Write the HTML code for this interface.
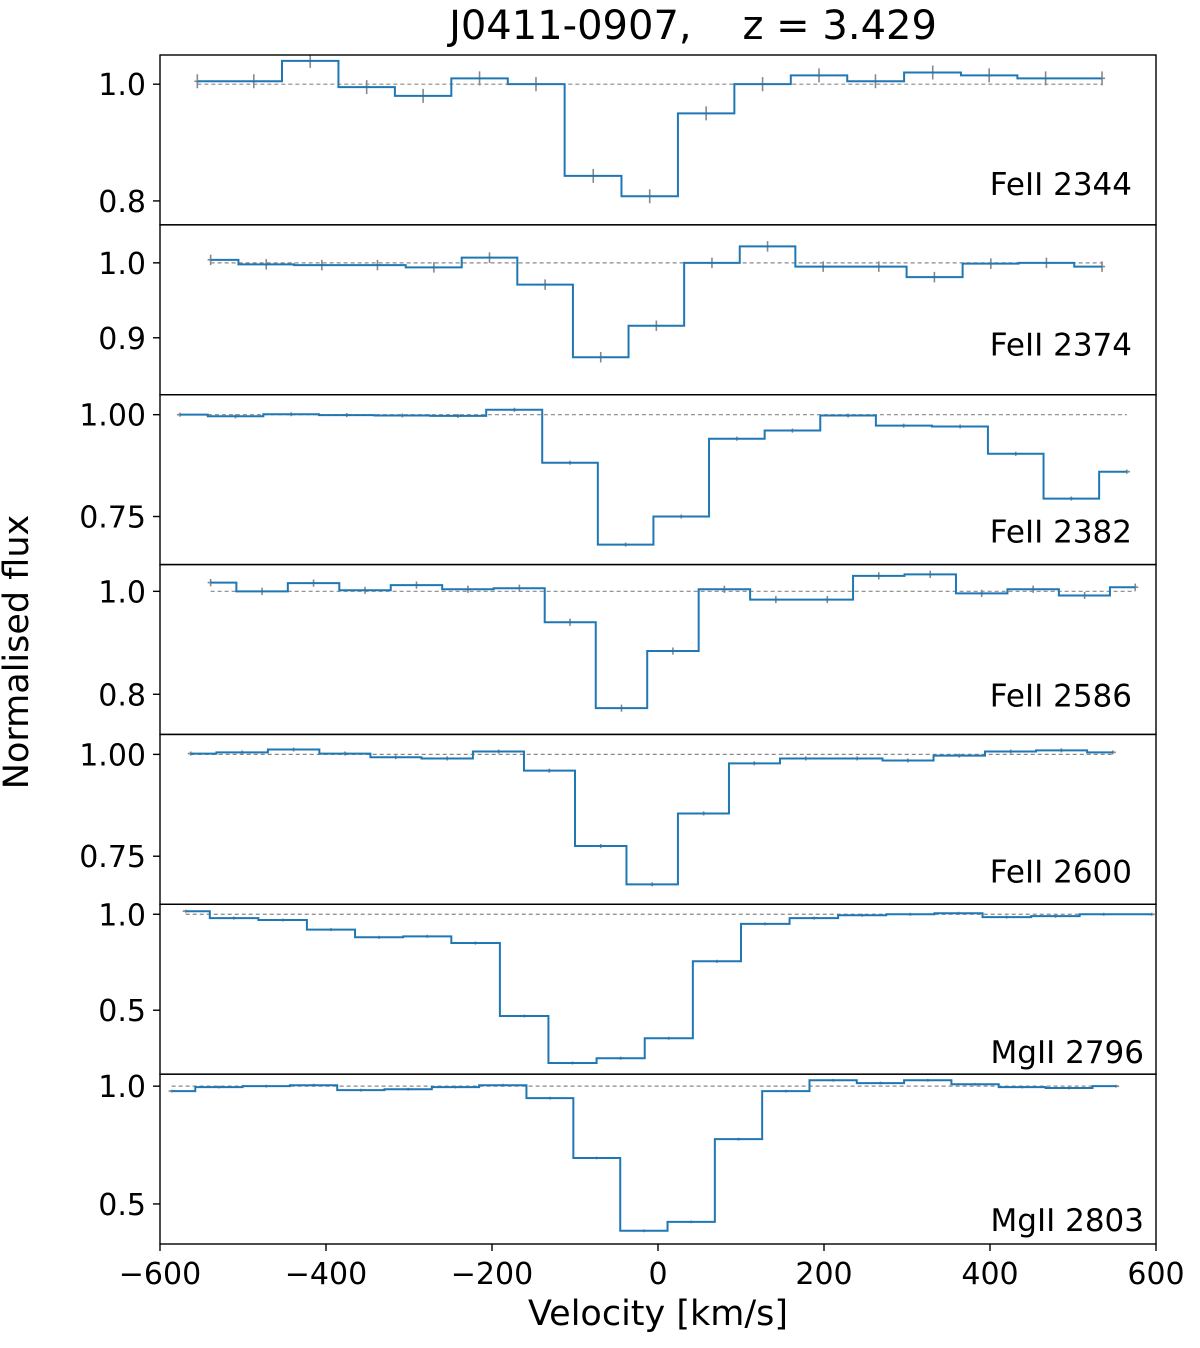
<!DOCTYPE html>
<html><head><meta charset="utf-8"><style>
body{margin:0;background:#fff;}
svg{display:block;font-family:"DejaVu Sans","Liberation Sans",sans-serif;}
</style></head><body>
<svg id="fig" width="1200" height="1348" viewBox="0 0 1200 1348" xmlns="http://www.w3.org/2000/svg">
<text x="693" y="39" font-size="40" text-anchor="middle" xml:space="preserve">J0411-0907,    z = 3.429</text>
<text transform="translate(28,652) rotate(-90)" font-size="35" text-anchor="middle">Normalised flux</text>
<text x="658" y="1325" font-size="35" text-anchor="middle">Velocity [km/s]</text>
<g id="panels"></g>
</svg>
<script>
const panelNames = ["FeII 2344","FeII 2374","FeII 2382","FeII 2586","FeII 2600","MgII 2796","MgII 2803"];
const vel1 = [-555,-487,-419,-351,-283,-215,-147,-78,-10,58,126,194,262,331,399,467,535];
const flux1 = [1.005,1.005,1.04,0.995,0.98,1.01,1.0,0.843,0.808,0.95,1.0,1.015,1.005,1.02,1.015,1.01,1.01];
const vel2 = [-539,-472,-405,-338,-270,-203,-136,-69,-2,65,132,199,266,333,401,468,535];
const flux2 = [1.004,0.998,0.997,0.997,0.994,1.007,0.971,0.874,0.916,1.0,1.022,0.995,0.995,0.981,0.999,1.0,0.995];
const vel3 = [-576,-509,-442,-375,-308,-241,-173,-106,-39,28,95,162,229,296,364,431,498,565];
const flux3 = [1.0,0.996,1.001,0.999,0.998,0.997,1.012,0.882,0.681,0.75,0.941,0.961,0.998,0.973,0.971,0.904,0.794,0.86];
const vel4 = [-539,-477,-415,-353,-291,-229,-167,-106,-44,18,80,142,204,266,328,390,452,514,575];
const flux4 = [1.017,1.0,1.016,1.002,1.012,1.004,1.006,0.94,0.773,0.884,1.004,0.984,0.984,1.03,1.033,0.996,1.004,0.992,1.008];
const vel5 = [-563,-501,-439,-377,-316,-254,-192,-131,-69,-7,55,116,178,240,301,363,425,486,548];
const flux5 = [1.002,1.005,1.012,1.002,0.993,0.99,1.007,0.96,0.775,0.681,0.855,0.978,0.99,0.99,0.985,0.997,1.007,1.01,1.005];
const vel6 = [-569,-511,-452,-394,-336,-278,-220,-161,-103,-45,13,71,129,188,246,304,362,420,479,537,595];
const flux6 = [1.016,0.98,0.97,0.92,0.88,0.885,0.85,0.47,0.225,0.25,0.354,0.755,0.95,0.98,0.995,1.0,1.005,0.985,0.99,1.0,1.0];
const vel7 = [-586,-529,-472,-415,-358,-301,-244,-187,-130,-74,-17,40,97,154,211,268,325,382,439,495,552];
const flux7 = [0.979,0.996,1.0,1.004,0.983,0.987,0.996,1.004,0.949,0.695,0.386,0.424,0.775,0.979,1.025,1.013,1.025,1.008,0.996,0.992,1.0];
const errs = [0.012,0.007,0.005,0.007,0.005,0.008,0.006];
const yMins = [0.759,0.824,0.632,0.722,0.632,0.167,0.33];
const yMaxs = [1.05,1.0507,1.049,1.052,1.049,1.052,1.051];
const yTicks = [[0.8,1.0],[0.9,1.0],[0.75,1.0],[0.8,1.0],[0.75,1.0],[0.5,1.0],[0.5,1.0]];
const yTickLabels = [["0.8","1.0"],["0.9","1.0"],["0.75","1.00"],["0.8","1.0"],["0.75","1.00"],["0.5","1.0"],["0.5","1.0"]];
const xTicks = [-600,-400,-200,0,200,400,600];
const xTickLabels = ["\u2212600","\u2212400","\u2212200","0","200","400","600"];
const vels=[vel1,vel2,vel3,vel4,vel5,vel6,vel7];
const fluxes=[flux1,flux2,flux3,flux4,flux5,flux6,flux7];

const NS="http://www.w3.org/2000/svg";
const X0=160,X1=1156,top0=55,ph=169.857;
const labelRight=[1132,1132,1132,1132,1132,1144,1144];
const labelOff=[30,39,22,28,22,11,13];
function xs(v){return X0+(v+600)/1200*(X1-X0);}
function mk(tag,attrs,parent){const e=document.createElementNS(NS,tag);for(const k in attrs)e.setAttribute(k,attrs[k]);parent.appendChild(e);return e;}
const root=document.getElementById('panels');
for(let p=0;p<7;p++){
  const t=top0+p*ph,b=t+ph;
  const ys=f=>b-(f-yMins[p])/(yMaxs[p]-yMins[p])*ph;
  const g=mk('g',{},root);
  
  
  const v=vels[p],f=fluxes[p];
  const cp=mk('clipPath',{id:'c'+p},g);mk('rect',{x:X0,y:t,width:X1-X0,height:ph},cp);
  const dl=mk('line',{x1:xs(v[0]),x2:xs(v[v.length-1]),y1:ys(1),y2:ys(1),stroke:'#888','stroke-width':1.2,'stroke-dasharray':'4,3','clip-path':'url(#c'+p+')'},g);
  
  
  for(let i=0;i<v.length;i++){
    const x=xs(v[i]),y=ys(f[i]),e=errs[p]*ph/(yMaxs[p]-yMins[p]);
    const eb=mk('path',{d:`M${x},${y-e}V${y+e}M${x-3},${y}H${x+3}`,stroke:'#888','stroke-width':1.6,fill:'none','clip-path':'url(#c'+p+')'},g);
    
    
  }
  let d=`M${xs(v[0])},${ys(f[0])}`;
  for(let i=0;i<v.length;i++){
    const xr=i<v.length-1?xs((v[i]+v[i+1])/2):xs(v[i]);
    d+=`H${xr}`;
    if(i<v.length-1)d+=`V${ys(f[i+1])}`;
  }
  const sp=mk('path',{d:d,stroke:'#1f77b4','stroke-width':2,fill:'none','clip-path':'url(#c'+p+')'},g);
  
  
  const fr=mk('rect',{x:X0,y:t,width:X1-X0,height:ph,fill:'none',stroke:'#000','stroke-width':1.4},g);
  
  
  yTicks[p].forEach((tv,k)=>{
    const y=ys(tv);
    const tl=mk('line',{x1:X0-7,x2:X0,y1:y,y2:y,stroke:'#000','stroke-width':1.4},g);
    
    
    const tx=mk('text',{x:X0-14,y:y+11,'font-size':30,'text-anchor':'end'},g);
    tx.textContent=yTickLabels[p][k];
    
    
  });
  const lb=mk('text',{x:labelRight[p],y:b-labelOff[p],'font-size':31,'text-anchor':'end'},g);
  lb.textContent=panelNames[p];
  
  
}
const bot=top0+7*ph;
xTicks.forEach((tv,k)=>{
  const x=xs(tv);
  const tl=mk('line',{x1:x,x2:x,y1:bot,y2:bot+7,stroke:'#000','stroke-width':1.4},root);
  
  
  const tx=mk('text',{x:x,y:bot+40,'font-size':30,'text-anchor':'middle'},root);
  tx.textContent=xTickLabels[k];
  
  
});
</script>
</body></html>
